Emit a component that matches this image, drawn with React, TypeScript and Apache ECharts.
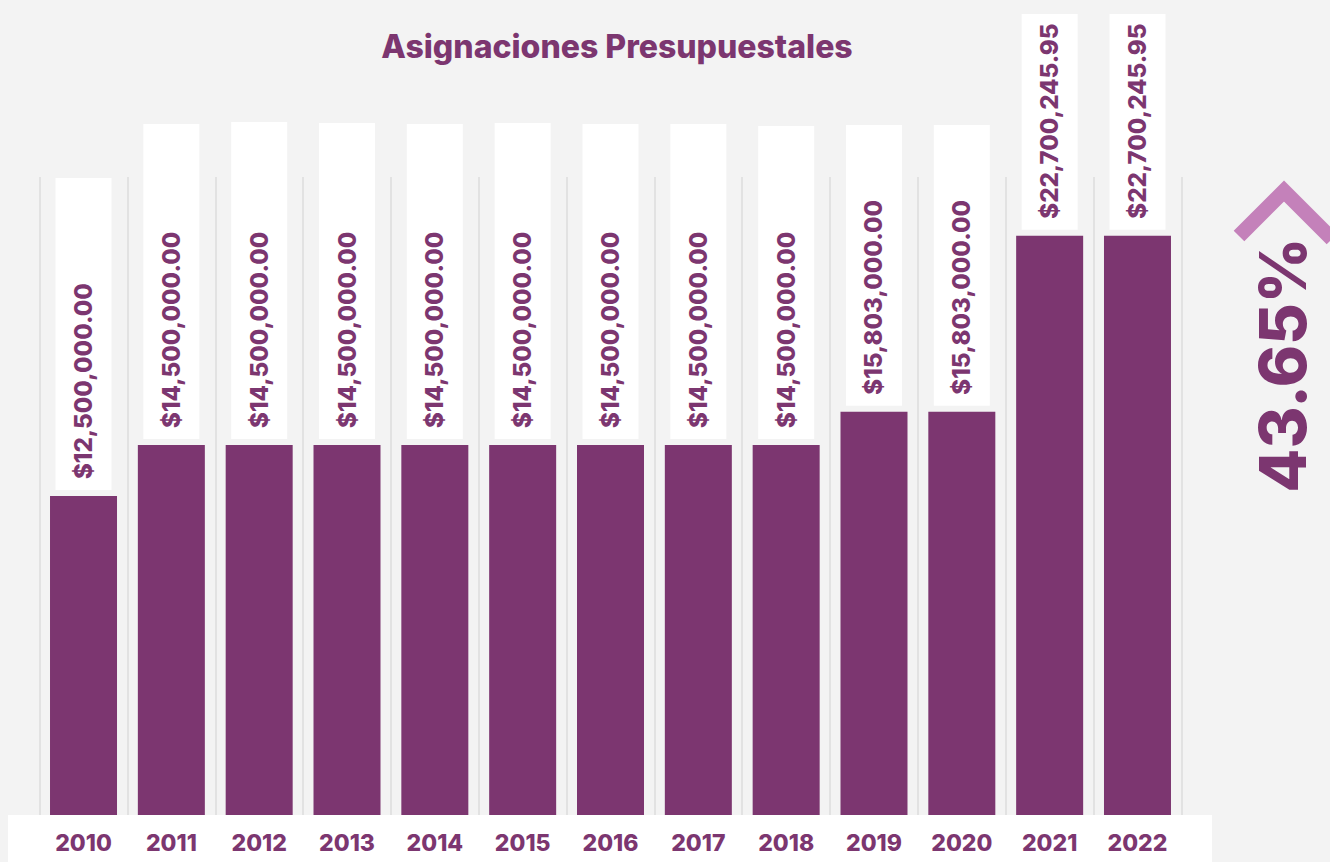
import React, { useEffect, useRef } from "react";
import * as echarts from "echarts";

const categories = ["2010", "2011", "2012", "2013", "2014", "2015", "2016", "2017", "2018", "2019", "2020", "2021", "2022"];
const values = [12500000, 14500000, 14500000, 14500000, 14500000, 14500000, 14500000, 14500000, 14500000, 15803000, 15803000, 22700245.95, 22700245.95];
const titleText = "Asignaciones Presupuestales";
const changeText = "43.65%";

// layout: top edge (px) of the white label box above each bar
const labelBoxTop = [178, 124, 122, 123, 124, 123, 124, 124, 126, 125, 125, 14, 14];

const PURPLE = "#7C3670";
const PINK = "#C481BA";
const LABEL_FONT = "Inter, 'Open Sans', sans-serif";
const LABEL_SIZE = 24;
const LEFT_PAD = 11;
const DIST = 6;

const fmt = (v: number) =>
  "$" + v.toLocaleString("en-US", { minimumFractionDigits: 2, maximumFractionDigits: 2 });

export default function App() {
  const ref = useRef<HTMLDivElement>(null);
  useEffect(() => {
    if (!ref.current) return;
    const chart = echarts.init(ref.current, null, { renderer: "svg" });
    const base: any = {
      animation: false,
      backgroundColor: "#f3f3f3",
      grid: { left: 39.6, right: 148.6, top: 177, bottom: 47, containLabel: false },
      xAxis: {
        type: "category",
        data: categories,
        z: 10,
        axisLine: { show: false },
        axisTick: { show: false },
        axisLabel: {
          color: PURPLE,
          fontWeight: 800,
          fontSize: 23,
          fontFamily: LABEL_FONT,
          margin: 16,
          interval: 0,
        },
        splitLine: { show: true, interval: 0, lineStyle: { color: "#e2e2e2", width: 2 } },
      },
      yAxis: { type: "value", min: 0, max: 25000000, show: false, splitLine: { show: false } },
      graphic: [
        { type: "rect", z: 0, silent: true, shape: { x: 8, y: 815, width: 1204, height: 47 }, style: { fill: "#ffffff" } },
        {
          type: "text",
          x: 617,
          y: 46,
          style: {
            text: titleText,
            fill: PURPLE,
            font: `800 32px ${LABEL_FONT}`,
            align: "center",
            verticalAlign: "middle",
          },
        },
        {
          type: "polyline",
          shape: { points: [[1239, 236], [1284, 191], [1332, 239]] },
          style: { stroke: PINK, lineWidth: 15, fill: null, lineJoin: "miter" },
        },
        {
          type: "text",
          x: 1282,
          y: 365,
          rotation: Math.PI / 2,
          style: {
            text: changeText,
            fill: PURPLE,
            font: `800 64px ${LABEL_FONT}`,
            align: "center",
            verticalAlign: "middle",
          },
        },
      ],
      series: [
        {
          type: "bar",
          data: values,
          barWidth: 67,
          z: 3,
          itemStyle: { color: PURPLE },
          label: {
            show: true,
            position: "top",
            distance: DIST,
            rotate: 90,
            align: "left",
            verticalAlign: "middle",
            color: PURPLE,
            fontWeight: 800,
            fontSize: LABEL_SIZE,
            fontFamily: LABEL_FONT,
            backgroundColor: "#ffffff",
            padding: [16, 20, 16, LEFT_PAD],
            formatter: (p: any) => fmt(p.value),
          },
        },
      ],
    };
    chart.setOption(base);

    const ctx = document.createElement("canvas").getContext("2d")!;
    ctx.font = `800 ${LABEL_SIZE}px ${LABEL_FONT}`;
    const data = values.map((v, i) => {
      const topPx = chart.convertToPixel({ yAxisIndex: 0 }, v) as number;
      const boxBottom = topPx - DIST;
      const len = boxBottom - labelBoxTop[i];
      const tw = ctx.measureText(fmt(v)).width;
      const rightPad = Math.max(4, len - LEFT_PAD - tw);
      return { value: v, label: { padding: [16, rightPad, 16, LEFT_PAD] } };
    });
    chart.setOption({ series: [{ data }] });

    return () => chart.dispose();
  }, []);
  return (
    <div
      ref={ref}
      style={{ position: "fixed", left: 0, top: 0, width: 1330, height: 862 }}
    />
  );
}
